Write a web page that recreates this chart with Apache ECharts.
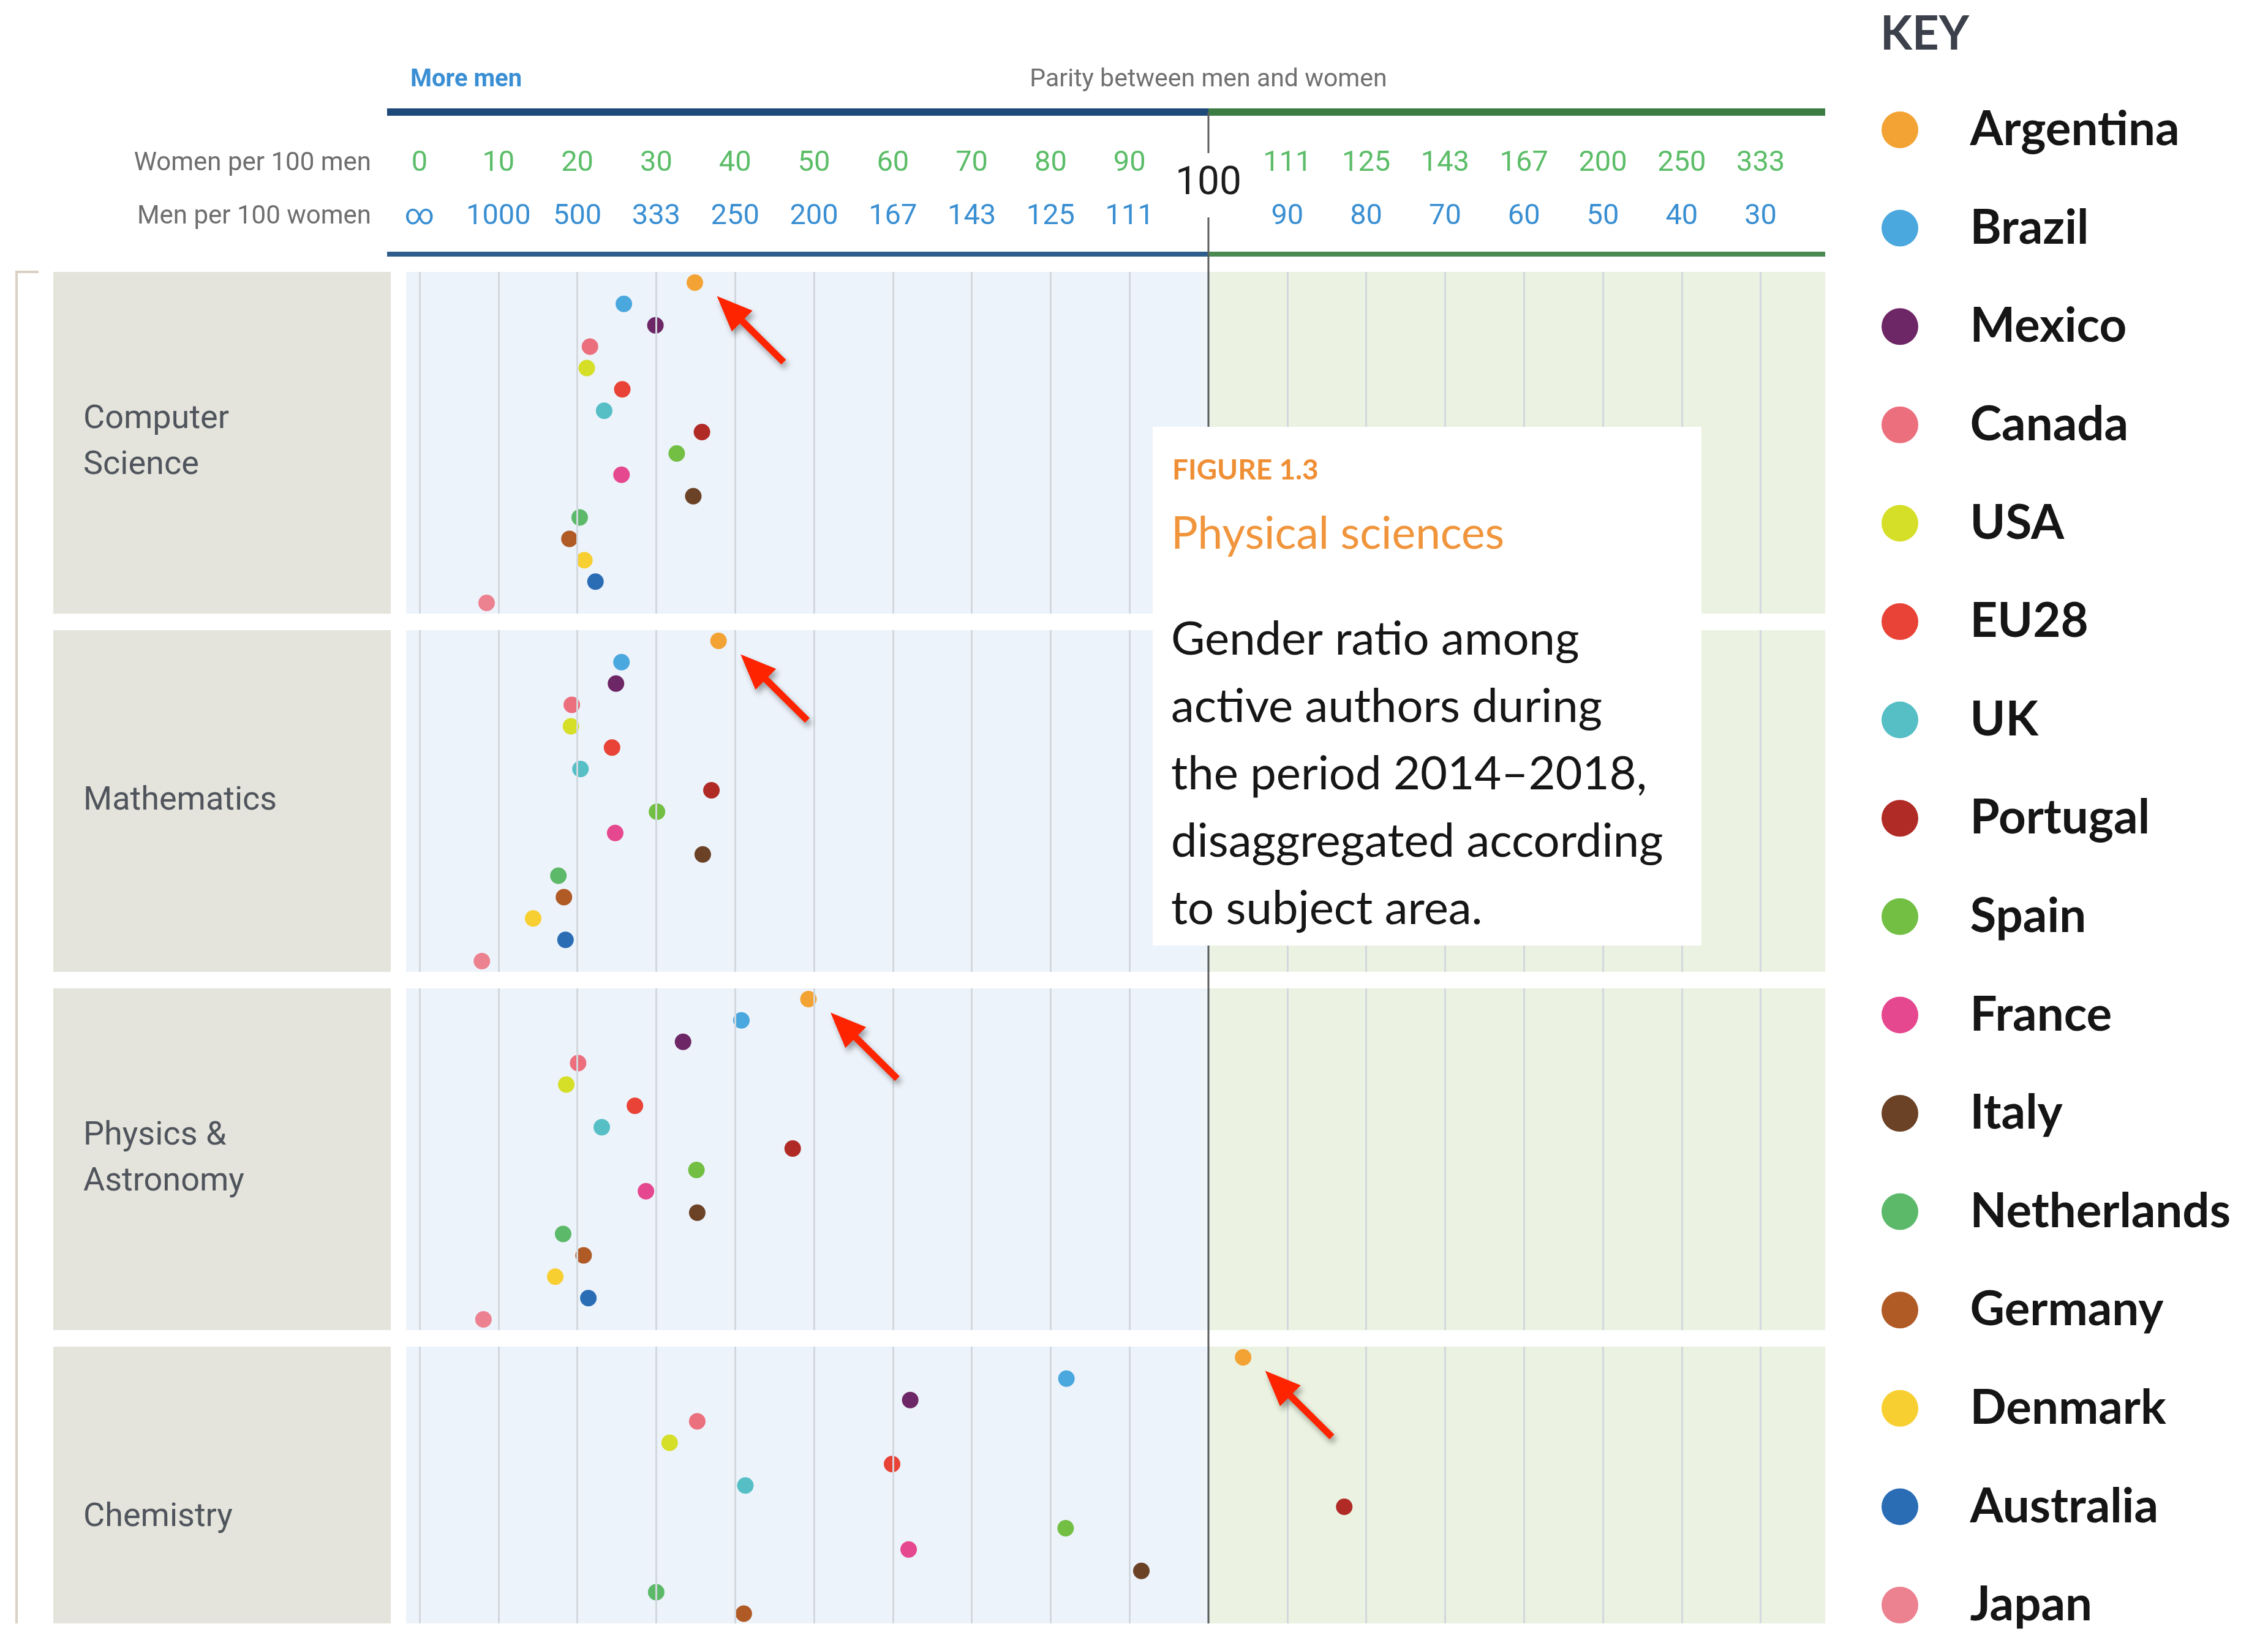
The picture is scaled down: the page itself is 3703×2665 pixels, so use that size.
<!DOCTYPE html>
<html>
<head>
<meta charset="utf-8">
<title>Physical sciences - gender ratio among active authors</title>
<script src="https://cdn.jsdelivr.net/npm/echarts@6/dist/echarts.min.js"></script>
<style>
  html, body { margin: 0; padding: 0; background: #fff; }
  #chart { width: 3703px; height: 2665px; }
</style>
</head>
<body>
<div id="chart"></div>
<script>
// ---- data ----
const countries = ['Argentina', 'Brazil', 'Mexico', 'Canada', 'USA', 'EU28', 'UK', 'Portugal',
  'Spain', 'France', 'Italy', 'Netherlands', 'Germany', 'Denmark', 'Australia', 'Japan']
const countryColors = ['#f2a334', '#4aa8de', '#6e2766', '#ec6f7e', '#d6df28', '#e94236', '#56bfc6', '#b02a26',
  '#72bf44', '#e64890', '#6b4226', '#5cb96a', '#b05a26', '#f8cf30', '#2a6db5', '#ec8190']

const subjects = ['Computer\nScience', 'Mathematics', 'Physics &\nAstronomy', 'Chemistry']

// women per 100 men, in country order
const computerScience = [34.9, 25.9, 29.9, 21.6, 21.2, 25.7, 23.4, 35.8, 32.6, 25.6, 34.7, 20.3, 19.0, 20.9, 22.3, 8.5]
const mathematics = [37.9, 25.6, 24.9, 19.3, 19.2, 24.4, 20.4, 37.0, 30.1, 24.8, 35.9, 17.6, 18.3, 14.4, 18.5, 7.9]
const physicsAstronomy = [49.3, 40.8, 33.4, 20.1, 18.6, 27.3, 23.1, 47.3, 35.1, 28.7, 35.2, 18.2, 20.8, 17.2, 21.4, 8.1]
const chemistry = [104.6, 82.0, 62.2, 35.2, 31.7, 59.9, 41.3, 120.8, 81.9, 62.0, 91.5, 30.0, 41.1, 36.4, null, null]

// tick labels (axis positions 0..17, position 10 = parity)
const gridTicks = [0, 1, 2, 3, 4, 5, 6, 7, 8, 9, 10, 11, 12, 13, 14, 15, 16, 17]
const womenTicks = ['0', '10', '20', '30', '40', '50', '60', '70', '80', '90', '', '111', '125', '143', '167', '200', '250', '333']
const menTicks = ['∞', '1000', '500', '333', '250', '200', '167', '143', '125', '111', '', '90', '80', '70', '60', '50', '40', '30']

// ---- layout ----
const PAGE_H = 2665
const PLOT_LEFT = 663
const PLOT_RIGHT = 2980
const ZERO_X = 685
const STEP = 128.8
const AXIS_MIN = (PLOT_LEFT - ZERO_X) / STEP
const AXIS_MAX = (PLOT_RIGHT - ZERO_X) / STEP
const PANEL_TOP = 444
const PANEL_PITCH = 585
const PANEL_H = 558
const ROW_H = PANEL_H / countries.length

const SANS = "Roboto, 'Liberation Sans', sans-serif"
const BODY = "Lato, 'Open Sans', sans-serif"

// left half: women per 100 men (0..100), right half: men per 100 women (100..0)
function axisPos(w) {
  if (w <= 100) return w / 10
  return 10 + (100 - 10000 / w) / 10
}

const subjectValues = [computerScience, mathematics, physicsAstronomy, chemistry]
const panelTop = k => PANEL_TOP + k * PANEL_PITCH
// the last panel runs off the bottom of the page
const panelHeight = k => Math.min(PANEL_H, PAGE_H - panelTop(k))

const chart = echarts.init(document.getElementById('chart'))

const grids = subjects.map((s, k) => ({
  left: PLOT_LEFT,
  width: PLOT_RIGHT - PLOT_LEFT,
  top: panelTop(k),
  height: panelHeight(k),
  show: true,
  backgroundColor: '#edf3fb',
  borderWidth: 0
}))
// header grid that carries the two rows of tick labels
grids.push({ left: ZERO_X, width: PLOT_RIGHT - ZERO_X, top: 267, height: 87, show: false })

const xAxes = subjects.map((s, k) => ({
  type: 'value', gridIndex: k, min: AXIS_MIN, max: AXIS_MAX, show: false
}))
const headerLabel = {
  margin: 0,
  verticalAlign: 'middle',
  fontSize: 47,
  fontFamily: SANS
}
xAxes.push({
  type: 'value', gridIndex: 4, position: 'top', min: 0, max: AXIS_MAX, interval: 1,
  axisLine: { show: false }, axisTick: { show: false }, splitLine: { show: false },
  axisLabel: { ...headerLabel, color: '#5cbd68', formatter: v => womenTicks[v] || '' }
})
xAxes.push({
  type: 'value', gridIndex: 4, position: 'bottom', min: 0, max: AXIS_MAX, interval: 1,
  axisLine: { show: false }, axisTick: { show: false }, splitLine: { show: false },
  axisLabel: { ...headerLabel, color: '#3a8fd2', formatter: v => menTicks[v] || '' }
})

const yAxes = subjects.map((s, k) => ({
  type: 'value', gridIndex: k, inverse: true, min: -0.5, max: -0.5 + panelHeight(k) / ROW_H, show: false
}))
yAxes.push({ type: 'value', gridIndex: 4, min: 0, max: 1, show: false })

const series = []
subjectValues.forEach((vals, k) => {
  series.push({
    type: 'scatter',
    name: 'background' + k,
    xAxisIndex: k,
    yAxisIndex: k,
    data: [],
    silent: true,
    z: 1,
    markArea: {
      silent: true,
      itemStyle: { color: '#ebf2e1' },
      data: [[{ xAxis: 10 }, { xAxis: AXIS_MAX }]]
    },
    markLine: {
      silent: true,
      symbol: 'none',
      label: { show: false },
      emphasis: { disabled: true },
      lineStyle: { color: '#d2d8dd', width: 3, type: 'solid' },
      data: gridTicks.map(t => ({ xAxis: t }))
    }
  })
  vals.forEach((v, i) => {
    series.push({
      type: 'scatter',
      name: countries[i],
      xAxisIndex: k,
      yAxisIndex: k,
      symbol: 'circle',
      symbolSize: 27,
      clip: false,
      z: 3,
      itemStyle: { color: countryColors[i], opacity: 1 },
      data: v == null ? [] : [[axisPos(v), i]]
    })
  })
})

const LEGEND_FONT = 78
chart.setOption({
  animation: false,
  backgroundColor: '#ffffff',
  grid: grids,
  xAxis: xAxes,
  yAxis: yAxes,
  legend: {
    data: countries,
    orient: 'vertical',
    left: 3072,
    top: 212 - LEGEND_FONT / 2,
    padding: 0,
    icon: 'circle',
    itemWidth: 219,
    itemHeight: 60,
    itemGap: 160.6 - LEGEND_FONT,
    selectedMode: false,
    textStyle: { fontSize: LEGEND_FONT, fontWeight: 'bold', fontFamily: BODY, color: '#151515' }
  },
  series: series
})

// ---- decoration: header, panel labels, caption box, arrows ----
function arrowPoints(p) {
  const tip = [p[0] + 36, p[1] + 22]
  const tail = [p[0] + 145, p[1] + 130]
  const dx = tip[0] - tail[0]
  const dy = tip[1] - tail[1]
  const len = Math.hypot(dx, dy)
  const u = [dx / len, dy / len]
  const n = [-u[1], u[0]]
  const base = [tip[0] - u[0] * 58, tip[1] - u[1] * 58]
  const w = 5.5
  const hw = 24
  return [
    [tail[0] + n[0] * w, tail[1] + n[1] * w],
    [base[0] + n[0] * w, base[1] + n[1] * w],
    [base[0] + n[0] * hw, base[1] + n[1] * hw],
    tip,
    [base[0] - n[0] * hw, base[1] - n[1] * hw],
    [base[0] - n[0] * w, base[1] - n[1] * w],
    [tail[0] - n[0] * w, tail[1] - n[1] * w]
  ]
}

function buildGraphics() {
  const parityX = chart.convertToPixel({ xAxisIndex: 0 }, 10)
  const els = []

  // bracket on the far left
  els.push({ type: 'polyline', z: 5, shape: { points: [[63, PANEL_TOP], [27, PANEL_TOP], [27, PAGE_H]] },
    style: { stroke: '#d8d0c2', lineWidth: 4, fill: null } })

  // subject label boxes
  subjects.forEach((s, k) => {
    const top = panelTop(k)
    els.push({ type: 'rect', z: 5, shape: { x: 87, y: top, width: 551, height: panelHeight(k) }, style: { fill: '#e4e4dc' } })
    els.push({ type: 'text', z: 6, x: 136, y: top + PANEL_H / 2,
      style: { text: s, font: '54px ' + SANS, fill: '#50555d', verticalAlign: 'middle', lineHeight: 75 } })
  })

  // header bars
  els.push({ type: 'rect', z: 5, shape: { x: 632, y: 177, width: parityX - 632, height: 12 }, style: { fill: '#1e4a7a' } })
  els.push({ type: 'rect', z: 5, shape: { x: parityX, y: 177, width: PLOT_RIGHT - parityX, height: 12 }, style: { fill: '#3b7c44' } })
  els.push({ type: 'rect', z: 5, shape: { x: 632, y: 411, width: parityX - 632, height: 8 }, style: { fill: '#2f5d8b' } })
  els.push({ type: 'rect', z: 5, shape: { x: parityX, y: 411, width: PLOT_RIGHT - parityX, height: 8 }, style: { fill: '#4a8a51' } })

  // header texts
  els.push({ type: 'text', z: 6, x: 670, y: 131,
    style: { text: 'More men', font: 'bold 40px ' + SANS, fill: '#3a8fd4', verticalAlign: 'middle' } })
  els.push({ type: 'text', z: 6, x: parityX, y: 131,
    style: { text: 'Parity between men and women', font: '41px ' + SANS, fill: '#707070', align: 'center', verticalAlign: 'middle' } })
  els.push({ type: 'text', z: 6, x: 606, y: 267,
    style: { text: 'Women per 100 men', font: '42px ' + SANS, fill: '#6e6e6e', align: 'right', verticalAlign: 'middle' } })
  els.push({ type: 'text', z: 6, x: 606, y: 354,
    style: { text: 'Men per 100 women', font: '42px ' + SANS, fill: '#6e6e6e', align: 'right', verticalAlign: 'middle' } })
  els.push({ type: 'text', z: 6, x: parityX, y: 301,
    style: { text: '100', font: '64px ' + SANS, fill: '#1c1c1c', align: 'center', verticalAlign: 'middle' } })

  // parity line
  els.push({ type: 'line', z: 8, shape: { x1: parityX, y1: 183, x2: parityX, y2: 250 }, style: { stroke: '#5d5d5d', lineWidth: 3 } })
  els.push({ type: 'line', z: 8, shape: { x1: parityX, y1: 355, x2: parityX, y2: PAGE_H }, style: { stroke: '#5d5d5d', lineWidth: 3 } })

  // caption box
  els.push({ type: 'rect', z: 20, shape: { x: 1882, y: 697, width: 896, height: 847 }, style: { fill: '#ffffff' } })
  els.push({ type: 'text', z: 21, x: 1914, y: 768,
    style: { text: 'FIGURE 1.3', font: 'bold 46px ' + BODY, fill: '#ef8f35', verticalAlign: 'middle' } })
  els.push({ type: 'text', z: 21, x: 1912, y: 872,
    style: { text: 'Physical sciences', font: '73px ' + BODY, fill: '#f0953c', verticalAlign: 'middle' } })
  // multi-line block centred on its middle line
  els.push({ type: 'text', z: 21, x: 1912, y: 1044 + 2 * 110,
    style: { text: 'Gender ratio among\nactive authors during\nthe period 2014–2018,\ndisaggregated according\nto subject area.',
      font: '76px ' + BODY, fill: '#161616', lineHeight: 110, verticalAlign: 'middle' } })

  // key title
  els.push({ type: 'text', z: 6, x: 3070, y: 56,
    style: { text: 'KEY', font: 'bold 76px ' + BODY, fill: '#3b404b', verticalAlign: 'middle' } })

  // red arrows pointing at Argentina in each panel
  subjectValues.forEach((vals, k) => {
    const p = chart.convertToPixel({ gridIndex: k }, [axisPos(vals[0]), 0])
    els.push({ type: 'polygon', z: 30, shape: { points: arrowPoints(p) },
      style: { fill: '#ff2400', shadowBlur: 10, shadowColor: 'rgba(0,0,0,0.35)', shadowOffsetX: 4, shadowOffsetY: 7 } })
  })

  // white strip at the bottom edge of the page
  els.push({ type: 'rect', z: 40, shape: { x: 0, y: 2651, width: 2990, height: 20 }, style: { fill: '#ffffff' } })

  chart.setOption({ graphic: { elements: els } })
}

buildGraphics()
</script>
</body>
</html>
